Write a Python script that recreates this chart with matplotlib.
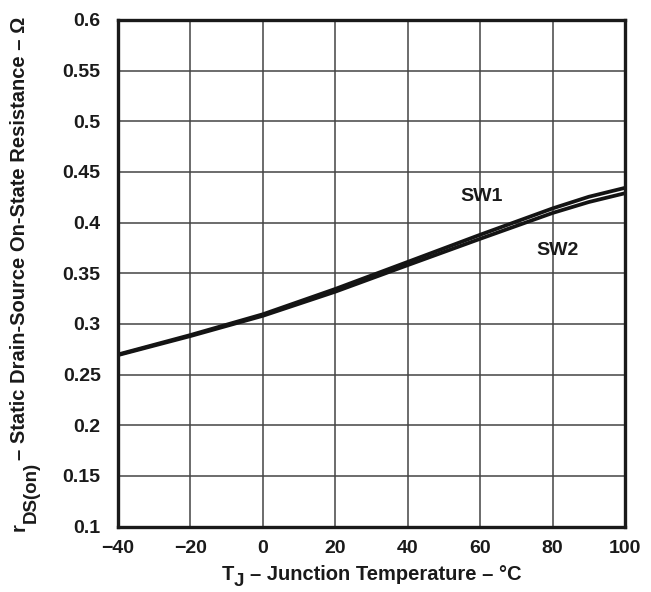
import matplotlib
matplotlib.use("Agg")
import matplotlib.pyplot as plt
from matplotlib.transforms import IdentityTransform

plt.rcParams['font.family'] = ['Liberation Sans', 'DejaVu Sans']
plt.rcParams['font.weight'] = 'bold'

temps = [-40, -20, 0, 20, 40, 60, 80, 90, 100]
sw1 = [0.2698, 0.2890, 0.3095, 0.3345, 0.3612, 0.3880, 0.4140, 0.4255, 0.4343]
sw2 = [0.2692, 0.2880, 0.3080, 0.3318, 0.3580, 0.3840, 0.4095, 0.4203, 0.4290]
xticks = [-40, -20, 0, 20, 40, 60, 80, 100]
xticklabels = ['\u221240', '\u221220', '0', '20', '40', '60', '80', '100']
yticks = [0.1, 0.15, 0.2, 0.25, 0.3, 0.35, 0.4, 0.45, 0.5, 0.55, 0.6]
yticklabels = ['0.1', '0.15', '0.2', '0.25', '0.3', '0.35', '0.4', '0.45', '0.5', '0.55', '0.6']
series_labels = ['SW1', 'SW2']
xlabel_parts = ['T', 'J', '\u2013 Junction Temperature \u2013 \u00b0C']
ylabel_parts = ['r', 'DS(on)', '\u2013 Static Drain-Source On-State Resistance \u2013 \u03a9']

TXT = '#1a1a1a'
W, H = 651, 592
fig = plt.figure(figsize=(W / 100, H / 100), dpi=100)
ax = fig.add_axes([118 / W, 1 - 526.5 / H, (625 - 118) / W, (526.5 - 20) / H])

ax.plot(temps, sw1, color='#141414', lw=2.7, solid_capstyle='butt', solid_joinstyle='round')
ax.plot(temps, sw2, color='#141414', lw=2.7, solid_capstyle='butt', solid_joinstyle='round')

ax.set_xlim(-40, 100)
ax.set_ylim(0.1, 0.6)
ax.set_xticks(xticks)
ax.set_xticklabels(xticklabels)
ax.set_yticks(yticks)
ax.set_yticklabels(yticklabels)
ax.tick_params(length=0, labelsize=14)
ax.tick_params(axis='x', pad=10)
ax.tick_params(axis='y', pad=12.5)
for lab in ax.get_xticklabels() + ax.get_yticklabels():
    lab.set_fontweight('bold')
    lab.set_color(TXT)
ax.grid(True, color='#444444', lw=1.1)
ax.set_axisbelow(True)
for s in ax.spines.values():
    s.set_linewidth(2.4)
    s.set_color(TXT)

ax.text(60.4, 0.4257, series_labels[0], fontsize=14, fontweight='bold', ha='center', va='center', color=TXT)
ax.text(81.4, 0.3724, series_labels[1], fontsize=14, fontweight='bold', ha='center', va='center', color=TXT)

# composed axis labels with near full-size, lowered subscripts
renderer = fig.canvas.get_renderer()
FS = 14.5
space = 0.278 * FS * 100 / 72


def compose(parts, sizes, shifts, gaps, center, base, vertical):
    texts = []
    for p, sz in zip(parts, sizes):
        t = fig.text(0, 0, p, fontsize=sz, fontweight='bold', color=TXT,
                     ha='left', va='baseline', transform=IdentityTransform(),
                     rotation=90 if vertical else 0, rotation_mode='anchor')
        texts.append(t)
    lens = []
    for t in texts:
        bb = t.get_window_extent(renderer)
        lens.append(bb.height if vertical else bb.width)
    total = sum(lens) + sum(gaps)
    cur = center - total / 2
    for t, L, sh, g in zip(texts, lens, shifts, gaps + [0]):
        if vertical:
            t.set_position((base + sh, cur))
        else:
            t.set_position((cur, base - sh))
        cur += L + g


# x label: baseline at y=580 px from top
compose(xlabel_parts, [FS, FS - 1, FS], [0, 6, 0], [0.5, space],
        center=371.5, base=H - 580, vertical=False)
# y label: baseline at x=25 px, centred at y=274 px from top
compose(ylabel_parts, [FS, FS - 1, FS], [0, 11, 0], [0.5, 2.0],
        center=H - 274, base=25, vertical=True)

fig.savefig('out.png', dpi=100)
